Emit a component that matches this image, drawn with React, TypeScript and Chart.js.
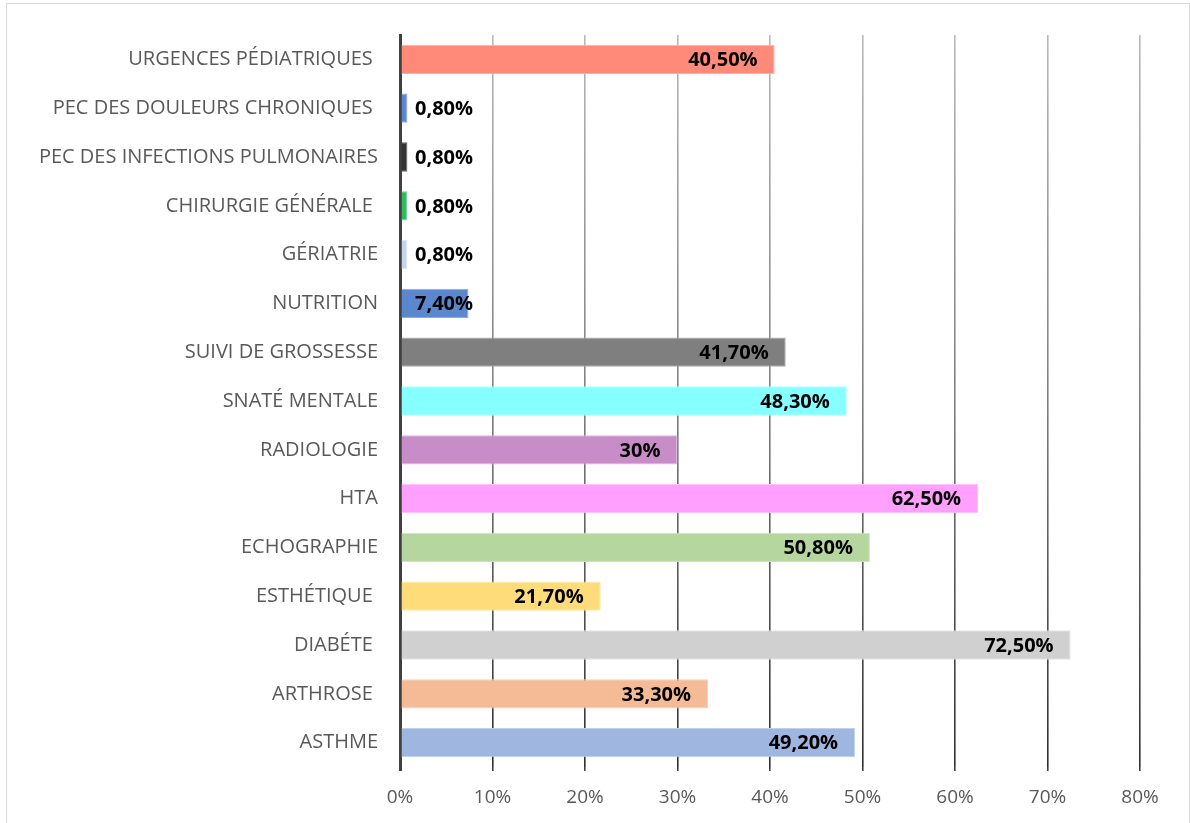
import React, { useEffect, useRef } from "react";
import { Chart, registerables } from "chart.js";

Chart.register(...registerables);

const categories = [
  "URGENCES PÉDIATRIQUES ",
  "PEC DES DOULEURS CHRONIQUES ",
  "PEC DES INFECTIONS PULMONAIRES",
  "CHIRURGIE GÉNÉRALE ",
  "GÉRIATRIE",
  "NUTRITION",
  "SUIVI DE GROSSESSE",
  "SNATÉ MENTALE",
  "RADIOLOGIE",
  "HTA",
  "ECHOGRAPHIE",
  "ESTHÉTIQUE ",
  "DIABÉTE ",
  "ARTHROSE ",
  "ASTHME",
];

const values = [40.5, 0.8, 0.8, 0.8, 0.8, 7.4, 41.7, 48.3, 30, 62.5, 50.8, 21.7, 72.5, 33.3, 49.2];

const barColors = [
  "#FF8A7A",
  "#5B86D0",
  "#333333",
  "#2EBD5E",
  "#C5D3EE",
  "#5B87CE",
  "#7F7F7F",
  "#85FFFF",
  "#C88DC8",
  "#FFA0FF",
  "#B5D69F",
  "#FFDC7A",
  "#D0D0D0",
  "#F5BB96",
  "#9FB6E0",
];

const borderColors = [
  "#FFB0A5",
  "#8FAAE0",
  "#666666",
  "#7FD79A",
  "#DCE5F5",
  "#8FAADE",
  "#A8A8A8",
  "#B5FFFF",
  "#DDB5DD",
  "#FFC4FF",
  "#CFE5C0",
  "#FFE9A8",
  "#E2E2E2",
  "#F9D2B8",
  "#C0D0EC",
];

const xTicks = [0, 10, 20, 30, 40, 50, 60, 70, 80];

function fmt(v: number): string {
  if (Number.isInteger(v)) return `${v}%`;
  return v.toFixed(2).replace(".", ",") + "%";
}

const labelPlugin = {
  id: "barValueLabels",
  afterDraw(chart: any) {
    const ctx = chart.ctx;
    const meta = chart.getDatasetMeta(0);
    const xScale = chart.scales.x;
    const base = xScale.getPixelForValue(0);
    ctx.save();
    ctx.font = "bold 20px 'Open Sans'";
    ctx.fillStyle = "#000000";
    ctx.textBaseline = "middle";
    ctx.textAlign = "left";
    meta.data.forEach((bar: any, i: number) => {
      const txt = fmt(values[i]);
      const w = ctx.measureText(txt).width;
      let left = bar.x - 17 - w;
      if (left < base + 15) left = base + 15;
      ctx.fillText(txt, left, bar.y + 1);
    });
    ctx.restore();
  },
};

export default function App() {
  const ref = useRef<HTMLCanvasElement | null>(null);

  useEffect(() => {
    document.body.style.margin = "0";
    const canvas = ref.current;
    if (!canvas) return;
    const gridColor = (c: any) => {
      if (c.index === 0) return "#404040";
      const chart = c.chart;
      const area = chart.chartArea;
      if (!area) return "rgba(0,0,0,0.5)";
      const gradient = chart.ctx.createLinearGradient(0, area.top, 0, area.bottom);
      gradient.addColorStop(0, "rgba(0,0,0,0.28)");
      gradient.addColorStop(0.5, "rgba(0,0,0,0.5)");
      gradient.addColorStop(1, "rgba(0,0,0,0.82)");
      return gradient;
    };
    const chart = new Chart(canvas, {
      type: "bar",
      data: {
        labels: categories,
        datasets: [
          {
            data: values,
            backgroundColor: barColors,
            borderColor: borderColors,
            borderWidth: 1,
            borderSkipped: "start",
            barPercentage: 0.6,
            categoryPercentage: 1,
          },
        ],
      },
      options: {
        indexAxis: "y",
        animation: false,
        responsive: false,
        maintainAspectRatio: false,
        layout: { padding: { top: 35, right: 50, left: 0, bottom: 0 } },
        plugins: {
          legend: { display: false },
          tooltip: { enabled: false },
        },
        scales: {
          x: {
            min: 0,
            max: 80,
            z: 1,
            afterFit: (s: any) => {
              s.height = 56;
            },
            afterBuildTicks: (s: any) => {
              s.ticks = xTicks.map((v) => ({ value: v }));
            },
            ticks: {
              stepSize: 10,
              padding: 15,
              color: "#595959",
              font: { family: "'Open Sans'", size: 19 },
              callback: (v: any) => `${v}%`,
            },
            grid: {
              color: gridColor,
              lineWidth: (c: any) => (c.index === 0 ? 3 : 1.6),
              drawTicks: true,
              tickLength: 4,
              tickColor: "#404040",
              tickWidth: (c: any) => (c.index === 0 ? 3 : 1.6),
            },
            border: { display: false },
          },
          y: {
            afterFit: (s: any) => {
              s.width = 400;
            },
            ticks: {
              padding: 22,
              color: "#595959",
              font: { family: "'Open Sans'", size: 20 },
            },
            grid: { display: false, drawTicks: false },
            border: { display: true, color: "#404040", width: 3 },
          },
        },
      },
      plugins: [labelPlugin],
    });
    return () => chart.destroy();
  }, []);

  return (
    <div style={{ position: "relative", width: 1190, height: 823, overflow: "hidden", background: "#fff" }}>
      <canvas ref={ref} width={1190} height={823} style={{ display: "block", width: 1190, height: 823 }} />
      <div
        style={{
          position: "absolute",
          left: 6,
          top: 3,
          width: 1182,
          height: 840,
          border: "1px solid #D9D9D9",
          pointerEvents: "none",
        }}
      />
    </div>
  );
}
